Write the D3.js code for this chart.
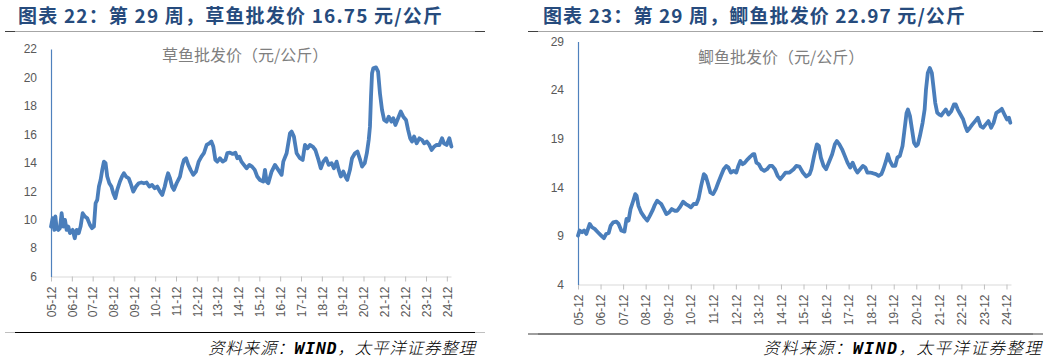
<!DOCTYPE html>
<html><head><meta charset="utf-8">
<script src="https://cdn.jsdelivr.net/npm/d3@7"></script>
<style>
html,body{margin:0;padding:0;background:#fff;}
svg{display:block;}
</style></head>
<body>
<svg id="chart" width="1048" height="361"></svg>
<script>
// ---------- data ----------
const xTickLabels = ["05-12","06-12","07-12","08-12","09-12","10-12","11-12","12-12","13-12","14-12",
  "15-12","16-12","17-12","18-12","19-12","20-12","21-12","22-12","23-12","24-12"];

const grassYTicks = [6,8,10,12,14,16,18,20,22];
const crucianYTicks = [4,9,14,19,24,29];

// time in years since 2005-12
const grassT = [0.00,0.08,0.16,0.21,0.27,0.35,0.43,0.51,0.59,0.67,0.75,0.83,0.91,1.04,1.14,1.23,1.33,1.42,1.52,1.63,
  1.74,1.87,1.97,2.06,2.14,2.22,2.30,2.38,2.46,2.54,2.62,2.70,2.80,2.90,2.99,3.09,3.18,3.31,3.41,3.50,
  3.60,3.73,3.82,3.95,4.08,4.21,4.34,4.46,4.59,4.72,4.85,4.98,5.10,5.23,5.34,5.46,5.55,5.62,5.71,5.81,
  5.90,6.03,6.19,6.29,6.38,6.48,6.59,6.70,6.83,6.96,7.09,7.22,7.34,7.47,7.60,7.70,7.79,7.89,7.98,8.11,
  8.24,8.37,8.46,8.59,8.72,8.85,8.94,9.04,9.14,9.26,9.39,9.52,9.65,9.78,9.90,10.03,10.19,10.27,10.35,10.43,
  10.59,10.75,10.91,11.07,11.15,11.31,11.47,11.55,11.66,11.79,11.95,12.08,12.19,12.31,12.43,12.56,12.69,12.84,12.95,13.07,
  13.20,13.33,13.47,13.58,13.71,13.81,13.91,14.03,14.13,14.22,14.35,14.45,14.59,14.71,14.84,14.93,15.06,15.16,15.25,15.31,
  15.36,15.41,15.47,15.60,15.70,15.79,15.89,15.99,16.11,16.21,16.34,16.43,16.53,16.66,16.79,16.91,17.04,17.14,17.24,17.33,
  17.43,17.55,17.68,17.81,17.91,18.04,18.16,18.27,18.39,18.51,18.64,18.77,18.86,18.99,19.12,19.22];
const grassPrice = [9.51,10.10,9.28,10.22,9.40,9.28,9.40,10.45,9.51,9.98,9.28,9.51,9.05,9.28,8.69,9.28,9.05,9.51,10.45,10.22,
  10.10,9.63,9.40,9.51,11.15,11.39,12.33,12.79,13.50,14.08,13.97,13.03,12.56,12.33,11.86,11.51,12.09,12.68,13.03,13.26,
  13.03,12.91,12.56,11.97,12.33,12.56,12.61,12.56,12.61,12.33,12.44,12.21,12.33,11.97,11.74,12.33,12.91,13.26,12.91,12.33,
  12.09,12.56,13.03,13.73,14.20,14.32,13.85,13.50,13.15,13.38,14.08,14.43,14.67,15.25,15.37,15.49,15.14,14.20,14.08,14.32,
  14.08,14.20,14.67,14.71,14.62,14.71,14.32,14.43,14.08,13.85,13.61,13.85,13.73,13.50,13.03,12.79,12.68,13.50,12.68,12.56,
  13.38,13.85,13.50,13.15,14.08,14.67,16.07,16.19,15.84,14.67,14.32,14.20,15.25,15.02,15.25,15.14,14.90,14.20,13.61,14.08,
  14.32,13.85,13.97,13.61,14.08,13.50,13.03,13.38,13.03,12.79,13.50,14.32,14.67,14.79,14.20,13.73,13.97,14.67,15.60,16.54,
  18.65,20.29,20.64,20.71,20.41,18.88,17.71,17.01,16.89,17.24,16.89,17.13,16.66,17.13,17.60,17.24,17.01,16.31,15.72,15.49,
  15.84,15.37,15.72,15.60,15.37,15.49,15.25,14.90,15.14,15.25,15.25,15.72,15.37,15.25,15.72,15.14];

const crucianT = [0.00,0.07,0.18,0.27,0.37,0.52,0.62,0.74,0.88,1.03,1.15,1.25,1.36,1.45,1.56,1.70,1.80,1.92,2.06,2.15,
  2.24,2.33,2.45,2.54,2.60,2.68,2.80,2.95,3.07,3.19,3.30,3.39,3.51,3.60,3.69,3.81,3.92,4.04,4.16,4.28,
  4.40,4.51,4.66,4.78,4.90,5.01,5.13,5.25,5.34,5.46,5.58,5.66,5.75,5.87,5.99,6.11,6.22,6.34,6.46,6.58,
  6.67,6.78,6.90,7.02,7.11,7.20,7.30,7.40,7.52,7.64,7.76,7.82,7.91,8.02,8.14,8.26,8.38,8.50,8.61,8.73,
  8.85,8.97,9.09,9.20,9.38,9.56,9.68,9.82,9.97,10.12,10.27,10.35,10.47,10.59,10.68,10.77,10.89,11.00,11.15,11.27,
  11.39,11.48,11.59,11.71,11.83,11.95,12.07,12.18,12.30,12.39,12.51,12.63,12.74,12.83,12.95,13.07,13.21,13.33,13.45,13.54,
  13.66,13.74,13.83,13.95,14.07,14.16,14.27,14.39,14.48,14.57,14.63,14.72,14.81,14.90,14.99,15.07,15.16,15.28,15.37,15.43,
  15.51,15.60,15.69,15.75,15.84,15.93,16.02,16.11,16.19,16.31,16.43,16.55,16.67,16.75,16.84,16.96,17.08,17.17,17.26,17.38,
  17.49,17.61,17.73,17.85,17.96,18.08,18.20,18.32,18.43,18.55,18.67,18.79,18.91,19.02,19.11,19.17];
const crucianPrice = [9.03,9.55,9.38,9.55,9.20,10.23,9.89,9.72,9.38,9.03,8.76,9.20,9.31,10.06,10.40,10.47,10.23,9.55,9.44,10.74,
  10.57,11.76,12.62,13.30,13.13,12.11,11.42,10.91,10.57,11.08,11.59,12.11,12.62,12.45,12.28,11.76,11.25,11.42,11.76,11.59,
  11.59,11.93,12.52,12.28,12.11,11.93,12.28,12.28,12.79,14.15,15.35,15.18,14.49,13.47,13.30,13.81,14.49,15.18,15.86,16.20,
  16.03,15.52,15.69,15.52,16.20,16.71,16.37,16.54,16.88,17.16,17.40,17.40,16.54,16.37,15.86,15.69,15.86,16.20,16.20,15.86,
  15.18,14.84,15.18,15.52,15.52,15.86,16.20,16.13,15.52,15.11,15.35,15.86,17.23,18.42,18.25,17.05,16.20,15.86,16.71,17.40,
  18.42,18.76,18.42,17.91,17.23,16.54,16.03,16.54,15.86,15.52,15.86,16.20,16.03,15.52,15.52,15.45,15.35,15.18,15.35,15.86,
  16.71,17.40,16.71,16.20,16.20,17.05,17.23,18.25,19.96,21.66,22.00,21.32,19.96,18.59,18.25,18.42,19.27,20.64,22.00,24.05,
  25.76,26.27,25.76,24.56,22.69,21.66,21.49,21.39,21.66,22.00,21.49,21.83,22.52,22.52,22.00,21.49,20.98,20.30,19.78,20.13,
  20.47,20.81,21.15,20.30,20.13,20.47,20.81,20.13,20.64,21.66,21.83,22.07,21.49,20.98,21.15,20.64];

const panelTitles = ["图表 22：第 29 周，草鱼批发价 16.75 元/公斤", "图表 23：第 29 周，鲫鱼批发价 22.97 元/公斤"];
const seriesNames = ["草鱼批发价（元/公斤）", "鲫鱼批发价（元/公斤）"];
const sourceNote = ["资料来源：", "WIND", "，太平洋证券整理"];

// ---------- drawing ----------
const svg = d3.select("#chart");
svg.append("rect").attr("width",1048).attr("height",361).attr("fill","#fff");

const LINE = "#4a7ebb";
const TICKTXT = "#595959";

const panels = [
  { x0:5, x1:485, title:panelTitles[0], titleX:18, titleW:424, name:seriesNames[0], nameX:162, nameY:61,
    t:grassT, v:grassPrice, yTicks:grassYTicks, yDomain:[6,22], yRange:[276.5,49],
    xRange:[51,451], ruleBottom:332.5, srcRight:475, srcW:267 },
  { x0:528, x1:1043, title:panelTitles[1], titleX:543, titleW:422, name:seriesNames[1], nameX:698, nameY:63,
    t:crucianT, v:crucianPrice, yTicks:crucianYTicks, yDomain:[4,29], yRange:[284.5,41.5],
    xRange:[578,1011], ruleBottom:334, srcRight:1041, srcW:278 }
];

panels.forEach(p => {
  const g = svg.append("g");
  // title
  g.append("text").attr("x",p.titleX).attr("y",23)
    .attr("font-family","'Noto Sans CJK SC','Noto Sans',sans-serif").attr("font-weight","bold")
    .attr("font-size",19).attr("fill","#264b7d")
    .attr("textLength",p.titleW).attr("lengthAdjust","spacing")
    .text(p.title);
  // top rule
  g.append("line").attr("x1",p.x0).attr("x2",p.x1).attr("y1",31.5).attr("y2",31.5)
    .attr("stroke","#a6a6a6").attr("stroke-width",1);
  g.append("line").attr("x1",p.x0).attr("x2",p.x0+10).attr("y1",31.5).attr("y2",31.5).attr("stroke","#404040");
  g.append("line").attr("x1",p.x1-10).attr("x2",p.x1).attr("y1",31.5).attr("y2",31.5).attr("stroke","#404040");
  // bottom rule
  g.append("line").attr("x1",p.x0).attr("x2",p.x1).attr("y1",p.ruleBottom).attr("y2",p.ruleBottom)
    .attr("stroke","#000").attr("stroke-width",1);
  g.append("line").attr("x1",p.x0).attr("x2",p.x0+10).attr("y1",p.ruleBottom).attr("y2",p.ruleBottom).attr("stroke","#bfbfbf");
  g.append("line").attr("x1",p.x1-10).attr("x2",p.x1).attr("y1",p.ruleBottom).attr("y2",p.ruleBottom).attr("stroke","#bfbfbf");

  const x = d3.scaleLinear().domain([0,19.2]).range(p.xRange);
  const y = d3.scaleLinear().domain(p.yDomain).range(p.yRange);
  const axisY = p.yRange[0];

  // x axis (category ticks at each December)
  const xAxis = d3.axisBottom(x).tickValues(d3.range(xTickLabels.length))
    .tickFormat(i => xTickLabels[i]).tickSize(5).tickSizeOuter(0);
  const gx = g.append("g").attr("transform",`translate(0,${axisY})`).call(xAxis);
  gx.select(".domain").attr("stroke","#d9d9d9");
  gx.selectAll(".tick line").attr("stroke","#bfbfbf");
  gx.selectAll(".tick text")
    .attr("font-family","'Liberation Sans',Arial,sans-serif").attr("font-size",12).attr("fill",TICKTXT)
    .attr("transform","rotate(-90)").attr("text-anchor","end")
    .attr("x",-10).attr("y",0).attr("dy","0.35em");

  // y axis
  const yAxis = d3.axisLeft(y).tickValues(p.yTicks).tickSize(0).tickPadding(14);
  const gy = g.append("g").attr("transform",`translate(${p.xRange[0]},0)`).call(yAxis);
  gy.select(".domain").attr("stroke","#4f81bd").attr("stroke-width",1.2);
  gy.selectAll(".tick text").attr("font-family","'Liberation Sans',Arial,sans-serif")
    .attr("font-size",12).attr("fill",TICKTXT);

  // series name
  g.append("text").attr("x",p.nameX).attr("y",p.nameY)
    .attr("font-family","'Noto Sans CJK SC',sans-serif").attr("font-size",16).attr("fill","#7f7f7f")
    .text(p.name);

  // line
  const data = p.t.map((t,i) => [t, p.v[i]]);
  g.append("path").datum(data)
    .attr("fill","none").attr("stroke",LINE).attr("stroke-width",3.8)
    .attr("stroke-linejoin","round").attr("stroke-linecap","round")
    .attr("d", d3.line().x(d => x(d[0])).y(d => y(d[1])));

  // source
  const src = g.append("text").attr("x",p.srcRight - p.srcW).attr("y",354)
    .attr("font-family","'Noto Sans CJK SC',sans-serif").attr("font-size",16.5)
    .attr("font-style","italic").attr("font-weight",300).attr("fill","#000")
    .attr("textLength",p.srcW).attr("lengthAdjust","spacing");
  src.append("tspan").text(sourceNote[0]);
  src.append("tspan").attr("font-weight","bold").attr("font-family","'DejaVu Sans Mono',monospace").text(sourceNote[1]);
  src.append("tspan").text(sourceNote[2]);
});
</script>
</body></html>
